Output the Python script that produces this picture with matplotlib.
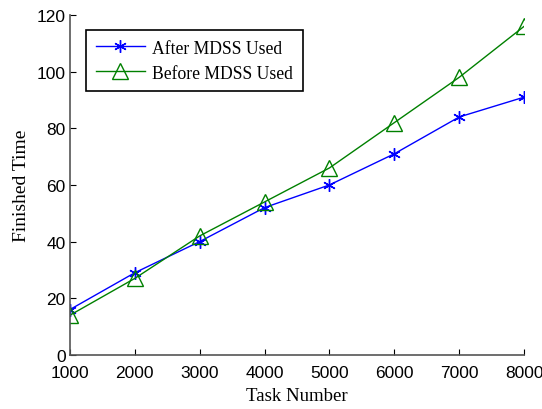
import matplotlib
matplotlib.use("Agg")
import matplotlib.pyplot as plt

task_number = [1000, 2000, 3000, 4000, 5000, 6000, 7000, 8000]
after_mdss = [16, 29, 40, 52, 60, 71, 84, 91]
before_mdss = [14, 27, 42, 54, 66, 82, 98, 116]

fig = plt.figure(figsize=(5.42, 4.1), dpi=100)
ax = fig.add_axes([0.129, 0.132, 0.838, 0.829])

# matlab-style asterisk marker
ax.plot(task_number, after_mdss, color="#0000ff", marker=(6, 2, 0), markersize=9,
        markeredgewidth=1, linewidth=1, label="After MDSS Used")
ax.plot(task_number, before_mdss, color="#008000", marker="^", markersize=11,
        markerfacecolor="none", linewidth=1, label="Before MDSS Used")

ax.set_xlim(1000, 8000)
ax.set_ylim(0, 120)
ax.set_xticks(task_number)
ax.set_yticks(range(0, 121, 20))
ax.tick_params(direction="in", length=4, labelsize=12.5)
ax.tick_params(axis="x", pad=7)
ax.tick_params(axis="y", pad=3)
for lbl in ax.get_xticklabels() + ax.get_yticklabels():
    lbl.set_family("Liberation Sans")
ax.spines["top"].set_visible(False)
ax.spines["right"].set_visible(False)
for s in ("left", "bottom"):
    ax.spines[s].set_color("#555555")
    ax.spines[s].set_linewidth(1.2)

ax.set_xlabel("Task Number", family="Liberation Serif", fontsize=13.5, labelpad=5)
ax.set_ylabel("Finished Time", family="Liberation Serif", fontsize=14, labelpad=5)

leg = ax.legend(loc="upper left", bbox_to_anchor=(0.035, 0.956), borderaxespad=0,
                prop={"family": "Liberation Serif", "size": 12.7}, fancybox=False,
                edgecolor="black", framealpha=1, handlelength=2.8, handletextpad=0.4,
                borderpad=0.55, labelspacing=0.45)
leg.get_frame().set_linewidth(1.2)

fig.savefig("out.png", dpi=100)
